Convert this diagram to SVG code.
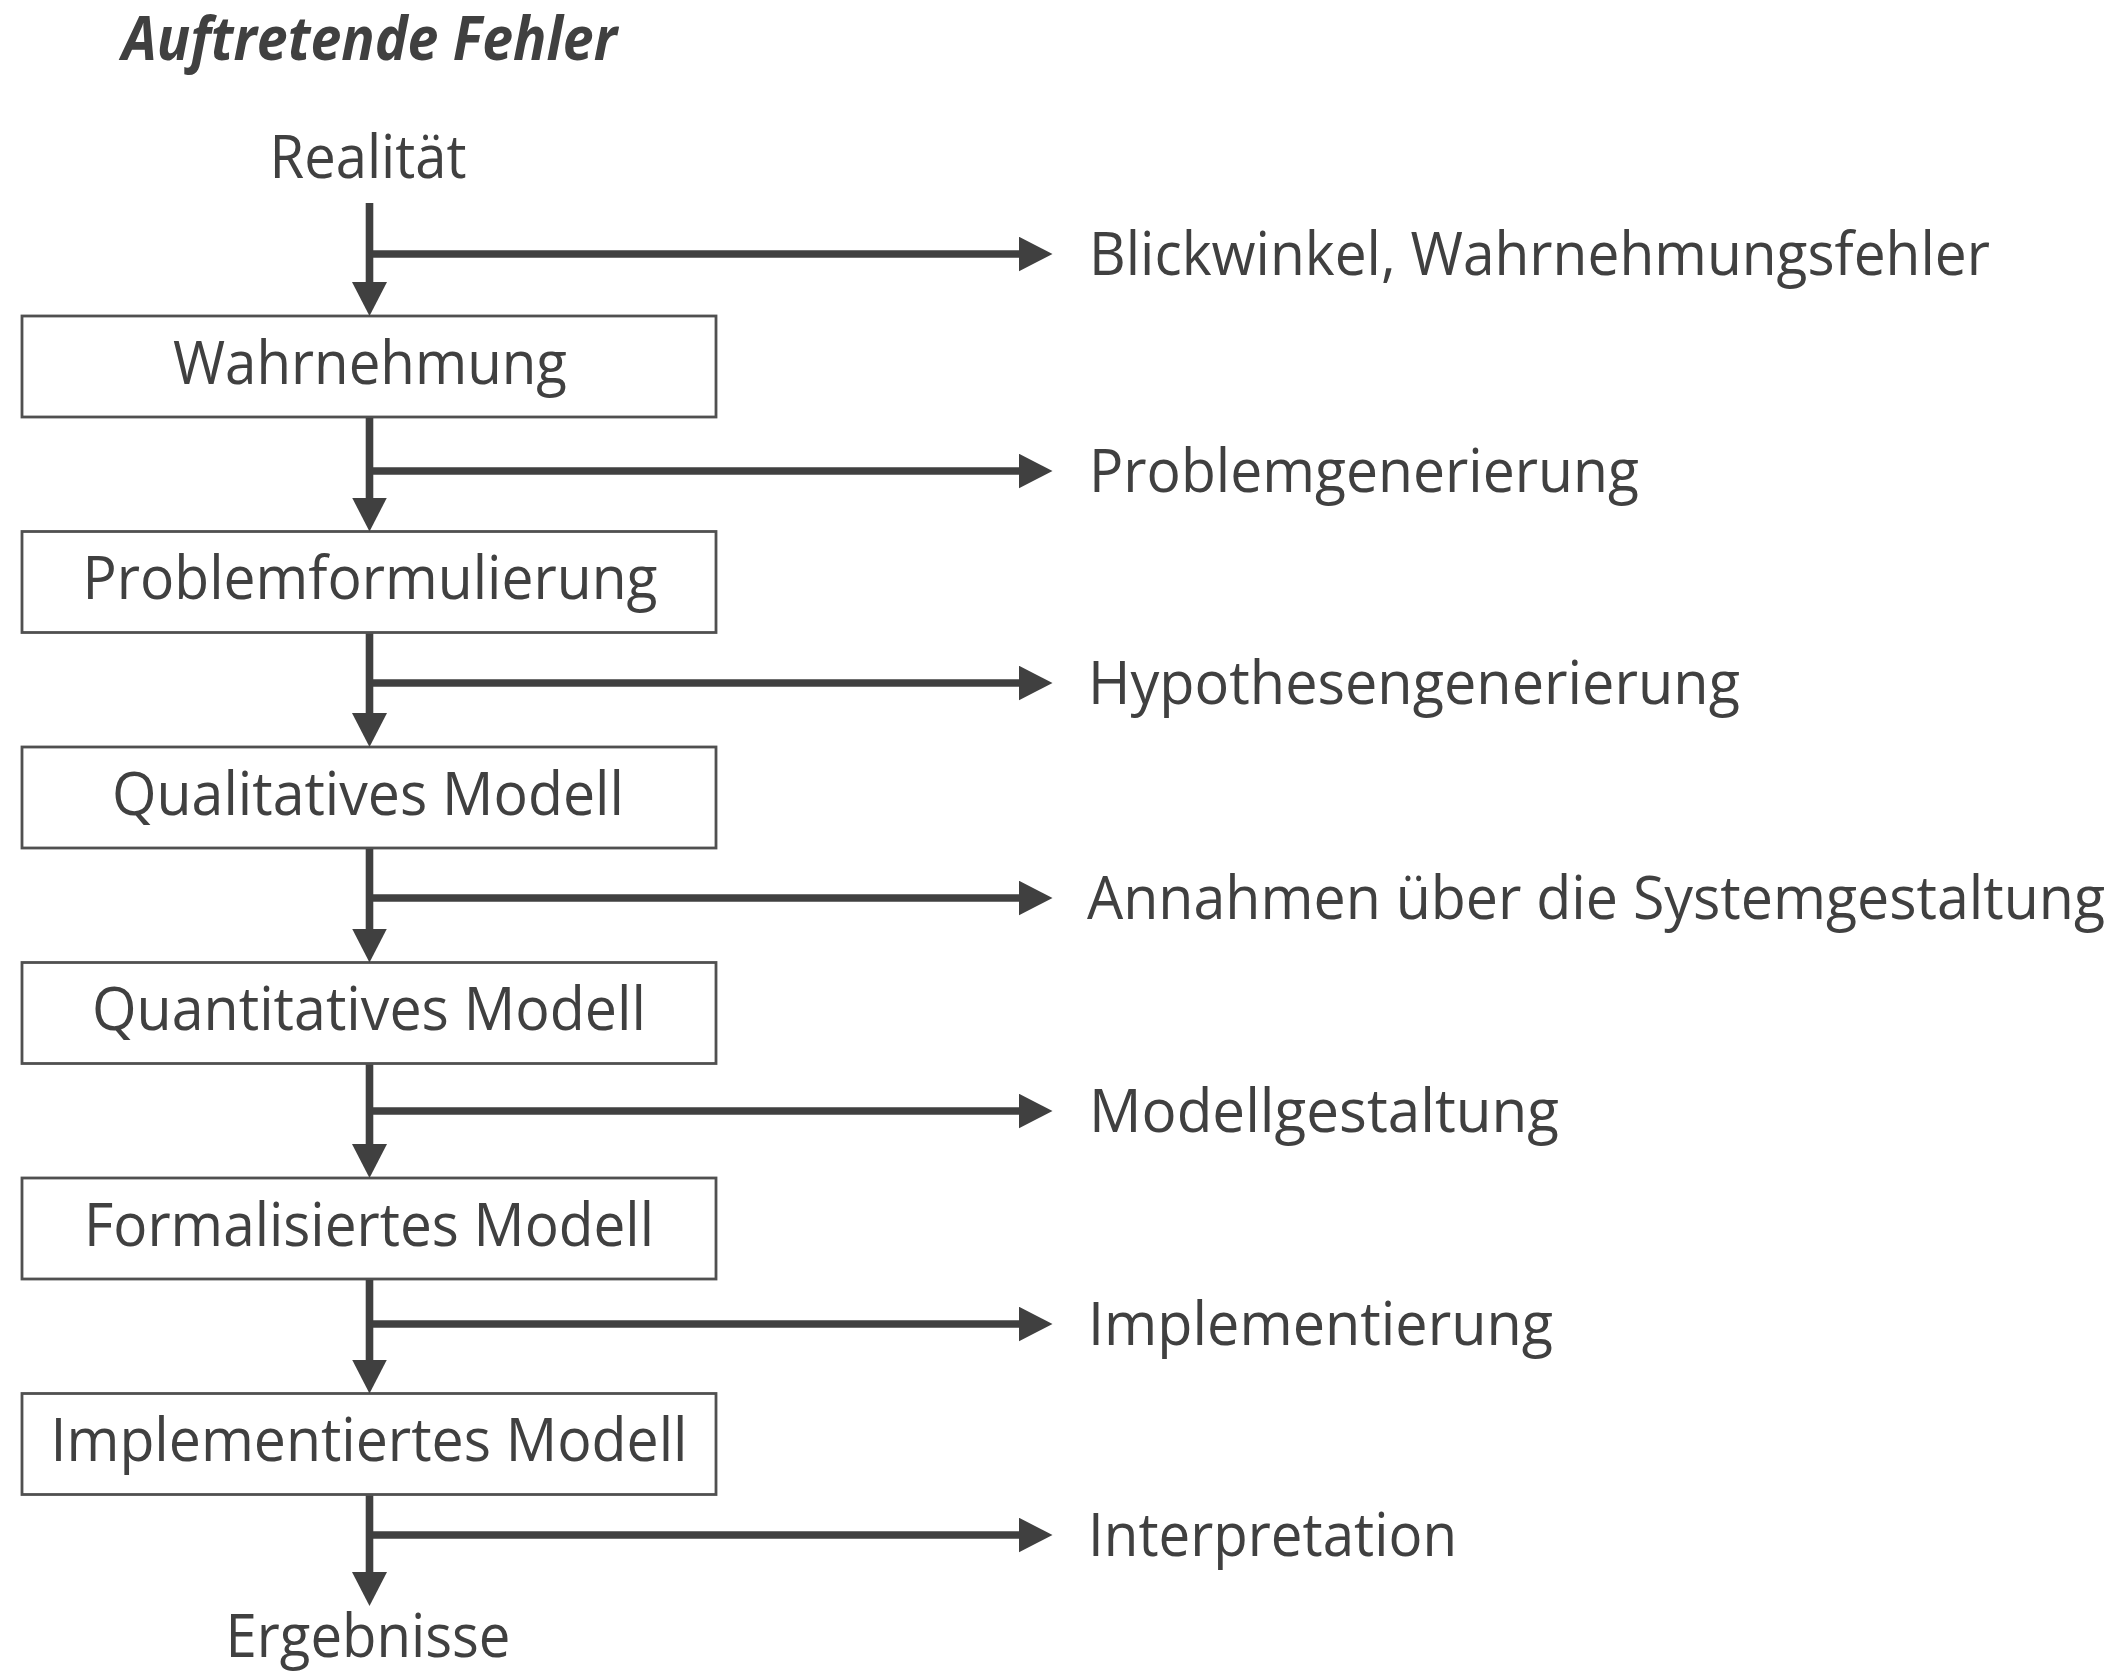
<svg xmlns="http://www.w3.org/2000/svg" width="2120" height="1676" viewBox="0 0 2120 1676">
  <style>
    .lbl { font-family: "Open Sans", "Noto Sans", "Liberation Sans", sans-serif; font-size: 60px; fill: #404040; }
    .ctr { text-anchor: middle; }
    .title { font-family: "Open Sans", "Noto Sans", "Liberation Sans", sans-serif; font-size: 60px; font-weight: 700; font-style: italic; fill: #404040; }
    .box { fill: #ffffff; stroke: #505050; stroke-width: 2.8; }
    .conn { stroke: #404040; stroke-width: 7.6; fill: none; }
  </style>
  <defs>
    <marker id="ah" markerUnits="userSpaceOnUse" markerWidth="34" markerHeight="35" refX="2" refY="17.5" orient="auto">
      <path d="M0,0 L34,17.5 L0,35 z" fill="#404040"/>
    </marker>
  </defs>
  <rect width="2120" height="1676" fill="#ffffff"/>

  <text class="title" x="122" y="60" textLength="495" lengthAdjust="spacingAndGlyphs">Auftretende Fehler</text>

  <g id="realitaet"><text class="lbl ctr" x="368" y="178" textLength="197" lengthAdjust="spacingAndGlyphs">Realität</text></g>

  <g id="wahrnehmung">
    <rect class="box" x="22" y="316" width="694" height="101"/>
    <text class="lbl ctr" x="370" y="383.5" textLength="394" lengthAdjust="spacingAndGlyphs">Wahrnehmung</text>
  </g>
  <g id="problemformulierung">
    <rect class="box" x="22" y="531.5" width="694" height="101"/>
    <text class="lbl ctr" x="370" y="599" textLength="575" lengthAdjust="spacingAndGlyphs">Problemformulierung</text>
  </g>
  <g id="qualitatives-modell">
    <rect class="box" x="22" y="747" width="694" height="101"/>
    <text class="lbl ctr" x="368" y="814.5" textLength="512" lengthAdjust="spacingAndGlyphs">Qualitatives Modell</text>
  </g>
  <g id="quantitatives-modell">
    <rect class="box" x="22" y="962.5" width="694" height="101"/>
    <text class="lbl ctr" x="369" y="1030" textLength="554" lengthAdjust="spacingAndGlyphs">Quantitatives Modell</text>
  </g>
  <g id="formalisiertes-modell">
    <rect class="box" x="22" y="1178" width="694" height="101"/>
    <text class="lbl ctr" x="369" y="1245.5" textLength="570" lengthAdjust="spacingAndGlyphs">Formalisiertes Modell</text>
  </g>
  <g id="implementiertes-modell">
    <rect class="box" x="22" y="1393.5" width="694" height="101"/>
    <text class="lbl ctr" x="369" y="1461" textLength="637" lengthAdjust="spacingAndGlyphs">Implementiertes Modell</text>
  </g>
  <g id="ergebnisse"><text class="lbl ctr" x="368" y="1657" textLength="285" lengthAdjust="spacingAndGlyphs">Ergebnisse</text></g>

  <g id="err-blickwinkel"><text class="lbl" x="1089" y="275" textLength="901" lengthAdjust="spacingAndGlyphs">Blickwinkel, Wahrnehmungsfehler</text></g>
  <g id="err-problemgenerierung"><text class="lbl" x="1089" y="492" textLength="550" lengthAdjust="spacingAndGlyphs">Problemgenerierung</text></g>
  <g id="err-hypothesengenerierung"><text class="lbl" x="1088" y="704" textLength="652" lengthAdjust="spacingAndGlyphs">Hypothesengenerierung</text></g>
  <g id="err-annahmen"><text class="lbl" x="1087" y="919" textLength="1018" lengthAdjust="spacingAndGlyphs">Annahmen über die Systemgestaltung</text></g>
  <g id="err-modellgestaltung"><text class="lbl" x="1089" y="1132" textLength="470" lengthAdjust="spacingAndGlyphs">Modellgestaltung</text></g>
  <g id="err-implementierung"><text class="lbl" x="1088" y="1345" textLength="465" lengthAdjust="spacingAndGlyphs">Implementierung</text></g>
  <g id="err-interpretation"><text class="lbl" x="1088" y="1556" textLength="369" lengthAdjust="spacingAndGlyphs">Interpretation</text></g>

  <g id="connectors">
    <!-- vertical flow -->
    <line class="conn" x1="369.5" y1="203" x2="369.5" y2="284" marker-end="url(#ah)"/>
    <line class="conn" x1="369.5" y1="418" x2="369.5" y2="499.5" marker-end="url(#ah)"/>
    <line class="conn" x1="369.5" y1="633.5" x2="369.5" y2="715" marker-end="url(#ah)"/>
    <line class="conn" x1="369.5" y1="849" x2="369.5" y2="930.5" marker-end="url(#ah)"/>
    <line class="conn" x1="369.5" y1="1064.5" x2="369.5" y2="1146" marker-end="url(#ah)"/>
    <line class="conn" x1="369.5" y1="1280" x2="369.5" y2="1361.5" marker-end="url(#ah)"/>
    <line class="conn" x1="369.5" y1="1495.5" x2="369.5" y2="1574" marker-end="url(#ah)"/>
    <!-- error branches -->
    <line class="conn" x1="366" y1="254" x2="1020.5" y2="254" marker-end="url(#ah)"/>
    <line class="conn" x1="366" y1="471" x2="1020.5" y2="471" marker-end="url(#ah)"/>
    <line class="conn" x1="366" y1="683" x2="1020.5" y2="683" marker-end="url(#ah)"/>
    <line class="conn" x1="366" y1="898" x2="1020.5" y2="898" marker-end="url(#ah)"/>
    <line class="conn" x1="366" y1="1111" x2="1020.5" y2="1111" marker-end="url(#ah)"/>
    <line class="conn" x1="366" y1="1324" x2="1020.5" y2="1324" marker-end="url(#ah)"/>
    <line class="conn" x1="366" y1="1535" x2="1020.5" y2="1535" marker-end="url(#ah)"/>
  </g>
</svg>
